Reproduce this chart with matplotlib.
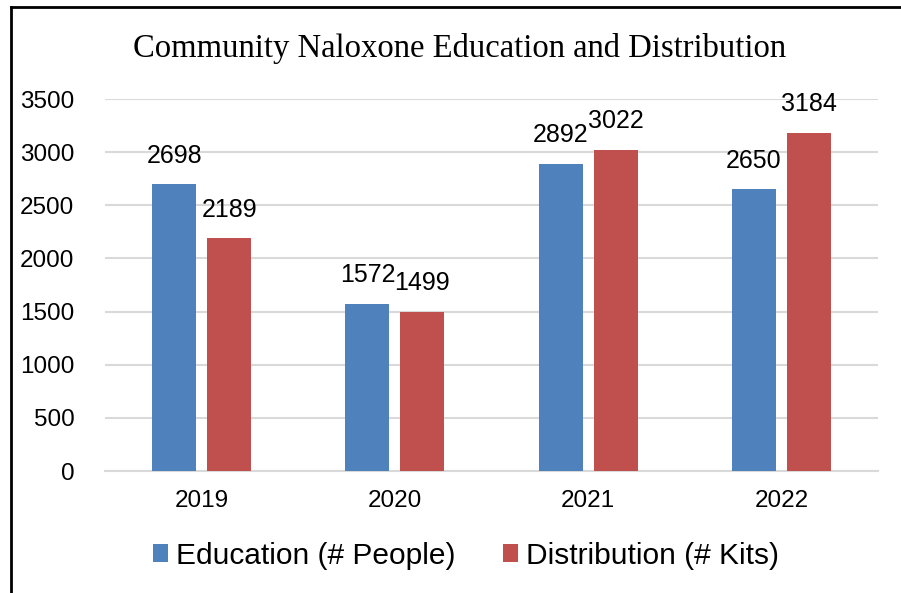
import matplotlib
matplotlib.use("Agg")
import matplotlib.pyplot as plt
from matplotlib.lines import Line2D
import numpy as np

years = ["2019", "2020", "2021", "2022"]
education = [2698, 1572, 2892, 2650]
distribution = [2189, 1499, 3022, 3184]
series_names = ["Education (# People)", "Distribution (# Kits)"]
title = "Community Naloxone Education and Distribution"
yticks = [0, 500, 1000, 1500, 2000, 2500, 3000, 3500]

BLUE = "#4F81BD"
RED = "#C0504D"
SANS = "Liberation Sans"

fig = plt.figure(figsize=(9.01, 5.93), dpi=100)
ax = fig.add_axes([105/901, 1-471/593, (878-105)/901, (471-99)/593])

x = np.arange(len(years))
w = 0.228
off = 0.142
b1 = ax.bar(x - off, education, w, color=BLUE, zorder=3)
b2 = ax.bar(x + off, distribution, w, color=RED, zorder=3)

for bars, vals in ((b1, education), (b2, distribution)):
    for r, v in zip(bars, vals):
        ax.annotate(str(v), (r.get_x() + r.get_width()/2, v), xytext=(0, 12),
                    textcoords="offset points", ha="center", va="bottom",
                    fontsize=18, family=SANS, color="#000000")

ax.set_xlim(-0.5, 3.5)
ax.set_ylim(0, 3500)
ax.set_yticks(yticks)
ax.set_yticklabels([str(t) for t in yticks], fontsize=17.5, family=SANS)
ax.set_xticks(x)
ax.set_xticklabels(years, fontsize=17.5, family=SANS)
ax.tick_params(axis="y", length=0, pad=22)
ax.tick_params(axis="x", length=0, pad=14)
ax.yaxis.grid(True, color="#D9D9D9", linewidth=1.5, zorder=0)
ax.set_axisbelow(True)
for s in ("top", "right", "left"):
    ax.spines[s].set_visible(False)
ax.spines["bottom"].set_color("#D9D9D9")
ax.spines["bottom"].set_linewidth(1.5)

fig.text(460/901, 1-48/593, title, ha="center", va="center",
         fontsize=23.5, family="Liberation Serif", color="#000000")

leg = fig.legend([b1, b2], series_names, loc="center", bbox_to_anchor=(466/901, 1-556/593),
                 ncol=2, frameon=False, prop={"family": SANS, "size": 21.5},
                 handlelength=0.5, handleheight=0.55, handletextpad=0.25, columnspacing=1.6)

# border lines
fig.add_artist(Line2D([10.5/901, 10.5/901], [0, 1-7/593], transform=fig.transFigure,
                      color="black", linewidth=2))
fig.add_artist(Line2D([10.5/901, 1], [1-7/593, 1-7/593], transform=fig.transFigure,
                      color="black", linewidth=2))

fig.savefig("out.png", dpi=100, facecolor="white")
